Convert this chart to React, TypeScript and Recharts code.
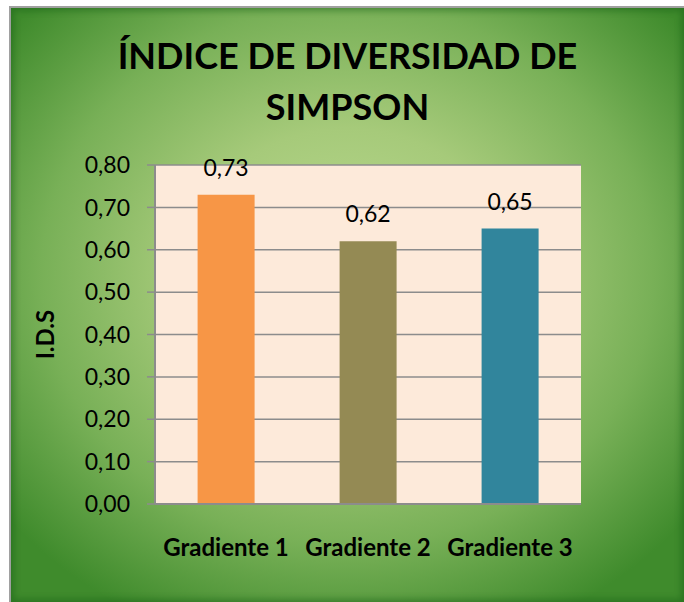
import { BarChart, Bar, XAxis, YAxis, CartesianGrid, LabelList, Cell } from 'recharts'

const categorias = ['Gradiente 1', 'Gradiente 2', 'Gradiente 3']
const indices = [0.73, 0.62, 0.65]
const colores = ['#F79646', '#948A54', '#31859C']
const ticksY = [0, 0.1, 0.2, 0.3, 0.4, 0.5, 0.6, 0.7, 0.8]

const fuente = 'Lato, "Open Sans", sans-serif'
const coma = (v: number) => v.toFixed(2).replace('.', ',')

export default function App() {
  const datos = categorias.map((c, i) => ({ nombre: c, ids: indices[i] }))

  return (
    <div
      style={{
        position: 'absolute',
        left: 9,
        top: 6,
        width: 675,
        height: 596,
        boxSizing: 'border-box',
        borderTop: '2px solid #a0a0a0',
        borderLeft: '2px solid #a0a0a0',
        background: 'radial-gradient(ellipse 65% 65% at 50% 45%, #bcdb92 0%, #a6ca7a 38%, #78b057 70%, #3f8b2c 100%)',
        boxShadow: 'inset 0 0 6px 3px rgba(20,90,20,0.45)',
        fontFamily: fuente,
      }}
    >
      <div
        style={{
          position: 'absolute',
          left: 0,
          width: '100%',
          top: 22,
          textAlign: 'center',
          fontWeight: 'bold',
          fontSize: 36,
          lineHeight: '51px',
          color: '#000',
        }}
      >
        ÍNDICE DE DIVERSIDAD DE
        <br />
        SIMPSON
      </div>
      <div style={{ position: 'absolute', left: -2, top: -2 }}>
        <BarChart
          width={675}
          height={596}
          data={datos}
          margin={{ top: 159, right: 103, left: 86, bottom: 58 }}
          barCategoryGap="30%"
        >
          <CartesianGrid vertical={false} stroke="#8c8c8c" strokeWidth={1.5} fill="#FDEADA" />
          <XAxis
            dataKey="nombre"
            height={40}
            tickLine={false}
            axisLine={{ stroke: '#8c8c8c', strokeWidth: 2 }}
            tick={{ fill: '#000', fontSize: 24, fontWeight: 'bold', fontFamily: fuente }}
            dy={27}
          />
          <YAxis
            width={60}
            domain={[0, 0.8]}
            ticks={ticksY}
            tickFormatter={coma}
            tickSize={8}
            tickLine={{ stroke: '#8c8c8c', strokeWidth: 1.5 }}
            axisLine={{ stroke: '#8c8c8c', strokeWidth: 2 }}
            tick={{ fill: '#000', fontSize: 23, fontFamily: fuente, dx: -15 }}
            label={{
              value: 'I.D.S',
              angle: -90,
              position: 'insideLeft',
              offset: -50,
              style: { fill: '#000', fontSize: 24, fontWeight: 'bold', fontFamily: fuente, textAnchor: 'middle' },
            }}
          />
          <Bar dataKey="ids" isAnimationActive={false}>
            {datos.map((d, i) => (
              <Cell key={d.nombre} fill={colores[i]} />
            ))}
            <LabelList
              dataKey="ids"
              position="top"
              offset={19}
              formatter={(v: any) => coma(Number(v))}
              style={{ fill: '#000', fontSize: 23, fontFamily: fuente }}
            />
          </Bar>
        </BarChart>
      </div>
    </div>
  )
}
